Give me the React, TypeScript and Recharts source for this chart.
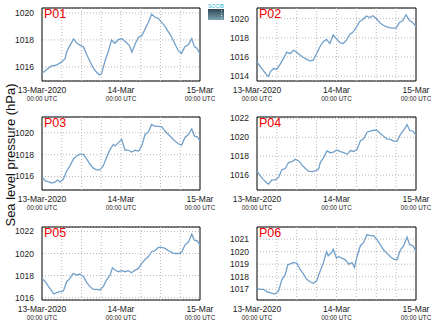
import React from "react";
import { LineChart, Line, XAxis, YAxis, CartesianGrid, ReferenceLine, ReferenceArea } from "recharts";

// Hours since 13-Mar-2020 00:00 UTC
const xTickHours = [0, 24, 48];
const xTickLabels = ["13-Mar-2020", "14-Mar", "15-Mar"];
const xTickSubLabel = "00:00 UTC";
const gridHours = [6, 12, 18, 24, 30, 36, 42];
const yAxisTitle = "Sea level pressure (hPa)";

const p01Hours = [0, 0.9, 1.9, 2.9, 3.9, 4.9, 5.9, 7, 7.5, 8.5, 9.6, 10.6, 11.6, 12.6, 13.6, 14.6, 15.6, 16.6, 17.4, 18.1, 19.1, 20.1, 21.1, 22.1, 23.1, 24.2, 25.2, 26.5, 27.3, 28.3, 29.3, 30.3, 31.3, 32.3, 33.3, 34.3, 35.3, 36.4, 37.4, 38.4, 39.4, 40.4, 41.4, 42.4, 43.4, 44.5, 45.5, 46.3, 47, 48];
const p01Values = [1015.53, 1015.7, 1015.9, 1016.07, 1016.1, 1016.2, 1016.35, 1016.6, 1017.1, 1017.6, 1018.07, 1017.75, 1017.6, 1017.5, 1016.9, 1016.4, 1015.9, 1015.6, 1015.4, 1015.5, 1016.4, 1017.1, 1018.0, 1017.75, 1018.0, 1018.1, 1017.9, 1017.6, 1017.1, 1017.7, 1018.2, 1018.3, 1018.8, 1019.3, 1019.9, 1019.7, 1019.6, 1019.3, 1019.0, 1018.6, 1018.2, 1017.7, 1017.2, 1017.0, 1017.5, 1017.65, 1018.1, 1017.5, 1017.4, 1016.95];

const p02Hours = [0, 1, 2, 3, 3.5, 4, 5, 6, 7, 8, 9, 10, 11, 12, 13, 14, 15, 16, 17, 18, 19, 20, 21, 22, 23, 24, 25, 26, 27, 28, 29, 30, 31, 32, 33, 34, 35, 36, 37, 38, 39, 40, 41, 42, 43, 44, 45, 46, 47, 48];
const p02Values = [1015.5, 1014.98, 1014.56, 1014.1, 1014.0, 1014.45, 1014.8, 1014.73, 1015.25, 1015.85, 1016.5, 1016.35, 1016.7, 1016.5, 1016.2, 1015.95, 1015.75, 1015.6, 1015.67, 1016.37, 1017.07, 1017.6, 1017.83, 1017.4, 1018.3, 1017.9, 1017.5, 1017.4, 1017.76, 1018.35, 1018.6, 1019.1, 1019.7, 1019.9, 1020.27, 1020.1, 1020.3, 1020.0, 1019.6, 1019.33, 1019.16, 1019.05, 1019.0, 1019.0, 1019.6, 1019.8, 1020.4, 1019.8, 1019.6, 1019.16];

const p03Hours = [0, 1, 2, 3, 4, 4.7, 5.5, 6.5, 7.5, 8.5, 9.5, 10.5, 11.5, 12.6, 13.6, 14.6, 15.6, 16.6, 17.6, 18.6, 19.6, 20.7, 21.7, 22.2, 23.2, 24.2, 25.2, 26.2, 27.2, 28.3, 29.3, 30.3, 31.3, 32.3, 33.3, 34.3, 35.3, 36.4, 37.4, 38.4, 39.4, 40.4, 41.4, 42.4, 43.4, 44.5, 45.5, 46.3, 47.2, 48];
const p03Values = [1015.97, 1015.6, 1015.5, 1015.4, 1015.5, 1015.67, 1015.5, 1015.76, 1016.5, 1016.97, 1017.58, 1017.88, 1018.03, 1018.03, 1017.58, 1017.12, 1016.76, 1016.6, 1016.6, 1016.97, 1017.73, 1018.48, 1018.94, 1018.8, 1019.1, 1019.4, 1018.42, 1018.42, 1018.24, 1018.4, 1018.33, 1018.8, 1019.85, 1020.06, 1020.76, 1020.6, 1020.6, 1020.55, 1020.15, 1019.85, 1019.55, 1019.24, 1019.0, 1018.88, 1019.55, 1019.85, 1020.36, 1019.7, 1019.64, 1019.24];

const p04Hours = [0, 1, 2, 3, 3.5, 4.5, 5.5, 6.5, 7.5, 8.5, 9.5, 10.6, 11.6, 12.6, 13.6, 14.6, 15.6, 16.6, 17.6, 18.6, 19.1, 20.1, 21.1, 22.1, 23.1, 24.1, 25.2, 26.2, 27.2, 28.2, 29.2, 30.2, 31.2, 32.2, 33.2, 34.2, 35.2, 36.2, 37.2, 38.2, 39.2, 40.2, 41.2, 42.3, 43.3, 44.3, 45.3, 46.1, 47.1, 48];
const p04Values = [1016.45, 1015.93, 1015.5, 1015.16, 1015.06, 1015.5, 1015.5, 1015.76, 1016.56, 1016.7, 1017.33, 1017.43, 1017.67, 1017.5, 1017.05, 1016.7, 1016.42, 1016.38, 1016.45, 1016.63, 1017.33, 1017.85, 1018.55, 1018.37, 1018.44, 1018.65, 1018.48, 1018.37, 1018.2, 1018.6, 1018.5, 1018.72, 1019.6, 1019.84, 1020.53, 1020.64, 1020.74, 1020.74, 1020.4, 1020.1, 1019.84, 1019.77, 1019.6, 1019.6, 1020.3, 1020.74, 1021.34, 1020.74, 1020.64, 1020.2];

const p05Hours = [0, 1, 2, 3, 3.6, 4.5, 5.5, 6.5, 7.5, 8.5, 9.5, 10.5, 11.5, 12.6, 13.6, 14.6, 15.6, 16.6, 17.6, 18.6, 19.6, 20.7, 21.4, 22.2, 23.2, 24.2, 25.2, 26.2, 27.2, 28.3, 29.3, 30.3, 31.3, 32.3, 33.3, 34.3, 35.3, 36.4, 37.4, 38.4, 39.4, 40.4, 41.4, 42.4, 43.4, 44.5, 45.5, 46.3, 47.2, 48];
const p05Values = [1017.75, 1017.45, 1017.0, 1016.6, 1016.33, 1016.45, 1016.54, 1016.6, 1017.45, 1017.75, 1018.2, 1018.05, 1018.14, 1017.9, 1017.36, 1017.0, 1016.75, 1016.75, 1016.7, 1017.0, 1017.6, 1018.05, 1018.7, 1018.5, 1018.35, 1018.44, 1018.35, 1018.44, 1018.26, 1018.5, 1018.65, 1019.1, 1019.46, 1019.7, 1020.16, 1020.25, 1020.55, 1020.55, 1020.46, 1020.25, 1020.1, 1020.0, 1020.0, 1020.1, 1020.76, 1021.06, 1021.75, 1021.2, 1021.15, 1020.76];

const p06Hours = [0, 1, 2, 3, 4, 5, 5.5, 6.5, 7.5, 8.5, 9.3, 10, 11, 12, 13, 14, 15, 16, 17, 18, 19, 20, 21, 21.5, 22.5, 23, 24, 24.6, 25.6, 26.7, 27.7, 28.7, 29.4, 30.2, 31.2, 32.2, 33.2, 34.2, 35.2, 36.2, 37.2, 38.2, 39.2, 40.2, 41.2, 42.3, 43.3, 44.3, 45.3, 46.1, 47.1, 48];
const p06Values = [1017.08, 1017.0, 1017.0, 1016.8, 1016.73, 1016.63, 1016.63, 1016.87, 1017.75, 1018.15, 1018.95, 1019.03, 1019.13, 1019.08, 1018.6, 1018.23, 1017.8, 1017.6, 1017.48, 1017.67, 1018.4, 1019.08, 1020.0, 1019.67, 1019.93, 1020.2, 1019.48, 1019.61, 1019.48, 1019.35, 1019.0, 1019.13, 1018.73, 1019.61, 1020.47, 1020.73, 1021.35, 1021.27, 1021.27, 1020.95, 1020.55, 1020.15, 1019.88, 1019.61, 1019.4, 1019.35, 1020.15, 1020.47, 1021.16, 1020.55, 1020.47, 1020.0];

const panelNames = ["P01", "P02", "P03", "P04", "P05", "P06"];
const panelHours = [p01Hours, p02Hours, p03Hours, p04Hours, p05Hours, p06Hours];
const panelValues = [p01Values, p02Values, p03Values, p04Values, p05Values, p06Values];
const panelYTicks = [
  [1016, 1018, 1020],
  [1014, 1016, 1018, 1020],
  [1016, 1018, 1020],
  [1016, 1018, 1020, 1022],
  [1016, 1018, 1020, 1022],
  [1017, 1018, 1019, 1020, 1021],
];
const panelYDomains = [
  [1014.95, 1020.37],
  [1013.5, 1021.1],
  [1014.76, 1021.45],
  [1014.43, 1022.14],
  [1015.79, 1022.4],
  [1016.15, 1021.96],
];

const FONT = "'Liberation Sans', Arial, sans-serif";
const LINE_COLOR = "#72a0c9";
const GRID_COLOR = "#b8b8b8";

const XTick = (props: any) => {
  const { x, y, payload } = props;
  const idx = xTickHours.indexOf(payload.value);
  return (
    <g>
      <text x={x} y={y + 11.5} textAnchor="middle" fontSize={8.5} fill="#222" fontFamily={FONT}>
        {xTickLabels[idx]}
      </text>
      <text x={x} y={y + 20} textAnchor="middle" fontSize={6.3} fill="#222" fontFamily={FONT}>
        {xTickSubLabel}
      </text>
    </g>
  );
};

const Panel = ({ i }: { i: number }) => {
  const data = panelHours[i].map((h, k) => ({ h, v: panelValues[i][k] }));
  const isRight = i % 2 === 1;
  const row = Math.floor(i / 2);
  const rowTops = [0, 109, 219];
  const dom = panelYDomains[i];
  return (
    <div style={{ position: "absolute", left: isRight ? 217 : 0, top: rowTops[row] }}>
      <LineChart
        width={217}
        height={110}
        data={data}
        margin={{ top: 8, left: 2, right: isRight ? 18 : 17, bottom: 0 }}
      >
        <CartesianGrid vertical={false} stroke={GRID_COLOR} strokeDasharray="1 2" />
        {gridHours.map((g) => (
          <ReferenceLine key={g} x={g} stroke={GRID_COLOR} strokeDasharray="1 2" />
        ))}
        <XAxis
          dataKey="h"
          type="number"
          domain={[0, 48]}
          ticks={xTickHours}
          interval={0}
          height={29}
          tickLine={false}
          tickSize={0}
          tickMargin={0}
          axisLine={false}
          tick={<XTick />}
        />
        <YAxis
          type="number"
          domain={dom}
          ticks={panelYTicks[i]}
          interval={0}
          allowDataOverflow
          width={isRight ? 38 : 40}
          tickLine={false}
          axisLine={false}
          tickMargin={2}
          tick={{ fontSize: 8.5, fill: "#222", fontFamily: FONT }}
        />
        <Line
          type="linear"
          dataKey="v"
          stroke={LINE_COLOR}
          strokeWidth={1.3}
          dot={false}
          isAnimationActive={false}
        />
        <ReferenceArea
          x1={0}
          x2={48}
          y1={dom[0]}
          y2={dom[1]}
          fill="none"
          stroke="#000"
          strokeWidth={1}
          fillOpacity={0}
          ifOverflow="extendDomain"
        />
      </LineChart>
      <div
        style={{
          position: "absolute",
          left: isRight ? 42 : 44,
          top: 7,
          fontFamily: FONT,
          fontSize: 12.5,
          color: "#ee0000",
          lineHeight: "14px",
        }}
      >
        {panelNames[i]}
      </div>
    </div>
  );
};

const Logo = () => (
  <svg style={{ position: "absolute", left: 207, top: 3 }} width={18} height={18}>
    <defs>
      <linearGradient id="lg" x1="0" y1="0" x2="0" y2="1">
        <stop offset="0" stopColor="#2e4452" />
        <stop offset="1" stopColor="#7aa3b2" />
      </linearGradient>
    </defs>
    <text x={1} y={5} fontSize={5.5} fill="#39b6d4" fontFamily={FONT} textLength={16} lengthAdjust="spacingAndGlyphs">
      SOCIB
    </text>
    <rect x={1} y={6} width={16} height={11} fill="url(#lg)" />
    <line x1={14.5} y1={7} x2={14.5} y2={16} stroke="#fff" strokeWidth={0.8} strokeDasharray="1 1.5" />
  </svg>
);

export default function App() {
  return (
    <div style={{ position: "absolute", left: 0, top: 0, width: 434, height: 327, background: "#fff", overflow: "hidden" }}>
      {panelNames.map((_, i) => (
        <Panel key={i} i={i} />
      ))}
      <div
        style={{
          position: "absolute",
          left: 10,
          top: 155,
          transform: "translate(-50%, -50%) rotate(-90deg)",
          whiteSpace: "nowrap",
          fontFamily: FONT,
          fontSize: 13,
          color: "#111",
        }}
      >
        {yAxisTitle}
      </div>
      <Logo />
    </div>
  );
}
